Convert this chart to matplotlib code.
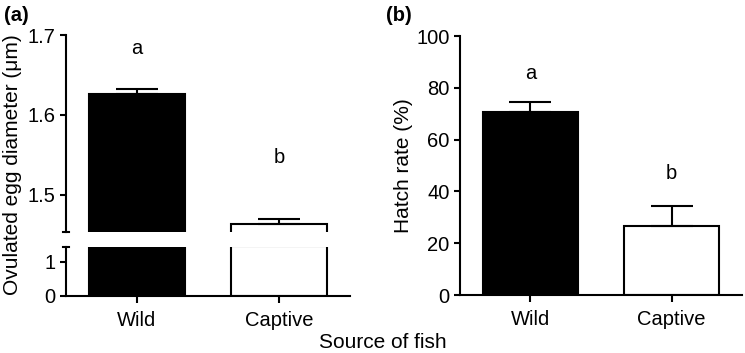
import matplotlib
matplotlib.use("Agg")
import matplotlib.pyplot as plt

plt.rcParams['font.family'] = ['Liberation Sans', 'DejaVu Sans']
plt.rcParams['font.size'] = 11.5

categories = ['Wild', 'Captive']
diameter = [1.626, 1.464]
diameter_se = [0.006, 0.006]
hatch = [70.5, 26.8]
hatch_se = [4.2, 7.7]
letters = ['a', 'b']
colors = ['black', 'white']

lw = 1.5
fig = plt.figure(figsize=(7.45, 3.53), dpi=100)

ax_top = fig.add_axes([0.0886, 0.3428, 0.3812, 0.558])
ax_bot = fig.add_axes([0.0886, 0.1615, 0.3812, 0.1388])
ax_b = fig.add_axes([0.6174, 0.1643, 0.3786, 0.7337])

x = range(len(categories))


def style(ax):
    for s in ['top', 'right']:
        ax.spines[s].set_visible(False)
    for s in ['left', 'bottom']:
        ax.spines[s].set_linewidth(lw)
    ax.tick_params(width=lw, length=4, direction='out', labelsize=14.5)
    ax.set_xlim(-0.5, 1.5)


for ax in (ax_top, ax_bot):
    ax.bar(x, diameter, width=0.67, color=colors, edgecolor='black', linewidth=lw)
    style(ax)
ax_top.errorbar(x, diameter, yerr=[[0, 0], diameter_se], fmt='none',
                ecolor='black', elinewidth=lw, capsize=15, capthick=lw)
ax_top.set_ylim(1.4537, 1.7)
ax_top.set_yticks([1.5, 1.6, 1.7])
ax_top.spines['bottom'].set_visible(False)
ax_top.tick_params(axis='x', bottom=False, labelbottom=False)
ax_bot.set_ylim(0, 1.44)
ax_bot.set_yticks([0, 1])
ax_bot.set_xticks(list(x))
ax_bot.set_xticklabels(categories)
ax_bot.tick_params(axis='x', length=5, pad=6)

# break marks on the y axis
ax_top.plot([-0.012, 0.012], [0, 0], transform=ax_top.transAxes, color='black',
            lw=lw, clip_on=False)
ax_bot.plot([-0.012, 0.012], [1, 1], transform=ax_bot.transAxes, color='black',
            lw=lw, clip_on=False)

for i, t in enumerate(letters):
    ax_top.text(i, [1.683, 1.547][i], t, ha='center', va='center', fontsize=14.5)

fig.text(0.017, 0.535, 'Ovulated egg diameter (μm)', rotation=90, ha='center',
         va='center', fontsize=15)

# panel b
ax_b.bar(x, hatch, width=0.67, color=colors, edgecolor='black', linewidth=lw)
ax_b.errorbar(x, hatch, yerr=[[0, 0], hatch_se], fmt='none', ecolor='black',
              elinewidth=lw, capsize=15, capthick=lw)
style(ax_b)
ax_b.set_ylim(0, 100)
ax_b.set_yticks([0, 20, 40, 60, 80, 100])
ax_b.set_xticks(list(x))
ax_b.set_xticklabels(categories)
ax_b.tick_params(axis='x', length=5, pad=6)
ax_b.set_ylabel('Hatch rate (%)', fontsize=15, labelpad=2)
for i, t in enumerate(letters):
    ax_b.text(i, [85.5, 47][i], t, ha='center', va='center', fontsize=14.5)

fig.text(0.005, 0.955, '(a)', fontsize=14.5, fontweight='bold', va='center')
fig.text(0.518, 0.955, '(b)', fontsize=14.5, fontweight='bold', va='center')
fig.text(0.514, 0.03, 'Source of fish', ha='center', va='center', fontsize=15)

fig.savefig('out.png', dpi=100)
